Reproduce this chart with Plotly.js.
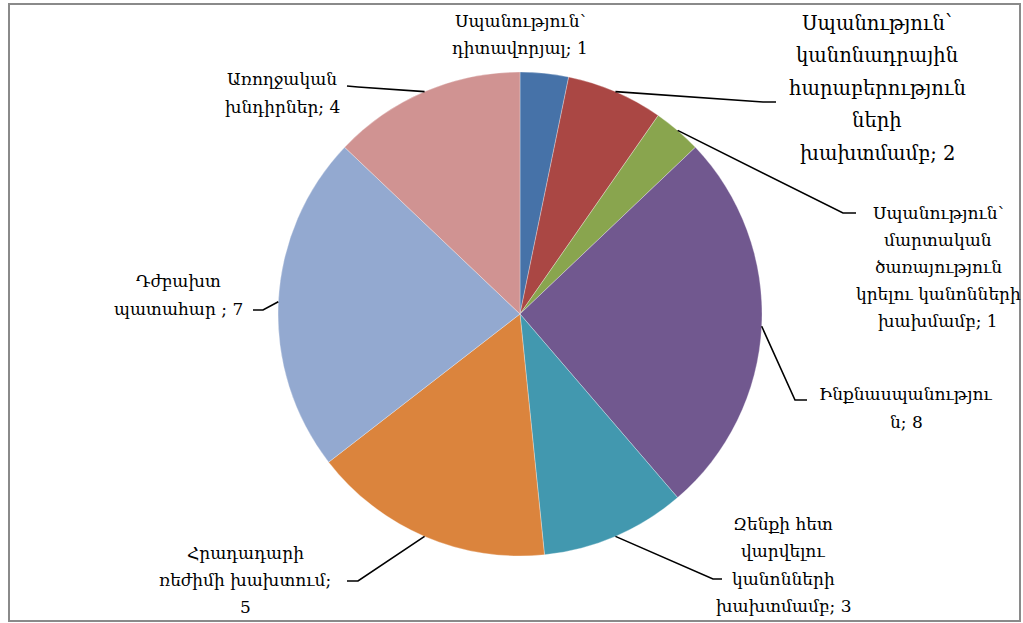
<!DOCTYPE html>
<html>
<head>
<meta charset="utf-8">
<script src="https://cdn.plot.ly/plotly-3.0.1.min.js"></script>
<style>html,body{margin:0;padding:0;background:#fff;}#chart{width:1023px;height:623px;}</style>
</head>
<body>
<div id="chart"></div>
<script>
// ---- data ----
const categories = [
  "Սպանություն՝ դիտավորյալ",
  "Սպանություն՝ կանոնադրային հարաբերությունների խախտմամբ",
  "Սպանություն՝ մարտական ծառայություն կրելու կանոնների խախմամբ",
  "Ինքնասպանություն",
  "Զենքի հետ վարվելու կանոնների խախտմամբ",
  "Հրադադարի ռեժիմի խախտում",
  "Դժբախտ պատահար ",
  "Առողջական խնդիրներ"
];
const values = [1, 2, 1, 8, 3, 5, 7, 4];
const labelLines = [
  ["Սպանություն՝", "դիտավորյալ; 1"],
  ["Սպանություն՝", "կանոնադրային", "հարաբերություն", "ների", "խախտմամբ; 2"],
  ["Սպանություն՝", "մարտական", "ծառայություն", "կրելու կանոնների", "խախմամբ; 1"],
  ["Ինքնասպանությու", "ն; 8"],
  ["Զենքի հետ", "վարվելու", "կանոնների", "խախտմամբ; 3"],
  ["Հրադադարի", "ռեժիմի խախտում;", "5"],
  ["Դժբախտ", "պատահար ; 7"],
  ["Առողջական", "խնդիրներ; 4"]
];
const colors = ["#4672A8", "#AA4744", "#89A54E", "#71588F", "#4298AF", "#DB843D", "#93A9D0", "#D09392"];

// ---- layout (pixel geometry) ----
const W = 1023, H = 623;
const cx = 520, cy = 314, r = 242;
// label block: centre x, first-line centre y, line spacing, font size
const labelPos = [
  {x: 520, y: 21, dy: 26.5, fs: 17},
  {x: 877, y: 23, dy: 32.5, fs: 19.5},
  {x: 938, y: 213, dy: 27, fs: 17},
  {x: 906, y: 394, dy: 27.5, fs: 17},
  {x: 783, y: 524, dy: 27.3, fs: 17},
  {x: 245, y: 553, dy: 27, fs: 17},
  {x: 178, y: 281, dy: 28, fs: 17},
  {x: 282, y: 79, dy: 28, fs: 17}
];
// leader elbow and end points (null = no leader)
const leaders = [
  null,
  [[763, 102], [776, 102]],
  [[843, 213], [856, 213]],
  [[795, 400], [807, 400]],
  [[713, 579], [722, 579]],
  [[358, 581], [347, 581]],
  [[263, 310], [253, 310]],
  [[358, 87], [347, 86]]
];

const px = x => x / W;
const py = y => 1 - y / H;
const FONT = "DejaVu Serif, Liberation Serif, serif";

const total = values.reduce((a, b) => a + b, 0);
const annotations = [];
const shapes = [];
let cum = 0;
values.forEach((v, i) => {
  const th = 2 * Math.PI * (cum + v / 2) / total;
  cum += v;
  const sx = cx + r * Math.sin(th), sy = cy - r * Math.cos(th);
  const L = leaders[i];
  if (L) {
    shapes.push({
      type: "path", xref: "paper", yref: "paper",
      path: `M ${px(sx)} ${py(sy)} L ${px(L[0][0])} ${py(L[0][1])} L ${px(L[1][0])} ${py(L[1][1])}`,
      line: {color: "#000", width: 1.6}
    });
  }
  const p = labelPos[i];
  labelLines[i].forEach((t, k) => {
    annotations.push({
      text: t, xref: "paper", yref: "paper",
      x: px(p.x), y: py(p.y + k * p.dy),
      xanchor: "center", yanchor: "middle", showarrow: false,
      font: {family: FONT, size: p.fs, color: "#000"}
    });
  });
});

shapes.push({
  type: "rect", xref: "paper", yref: "paper",
  x0: px(9), x1: px(1020), y0: py(621), y1: py(4),
  line: {color: "#8a8a8a", width: 2}, fillcolor: "rgba(0,0,0,0)", layer: "above"
});

const trace = {
  type: "pie",
  labels: categories,
  values: values,
  sort: false,
  direction: "clockwise",
  rotation: 0,
  textinfo: "none",
  hoverinfo: "label+value",
  marker: {colors: colors, line: {color: "#ffffff", width: 0.3}},
  domain: {x: [px(cx - r), px(cx + r)], y: [py(cy + r), py(cy - r)]},
  showlegend: false
};

Plotly.newPlot("chart", [trace], {
  width: W, height: H,
  margin: {l: 0, r: 0, t: 0, b: 0},
  paper_bgcolor: "#ffffff",
  showlegend: false,
  annotations: annotations,
  shapes: shapes
}, {displayModeBar: false, staticPlot: true});
</script>
</body>
</html>
